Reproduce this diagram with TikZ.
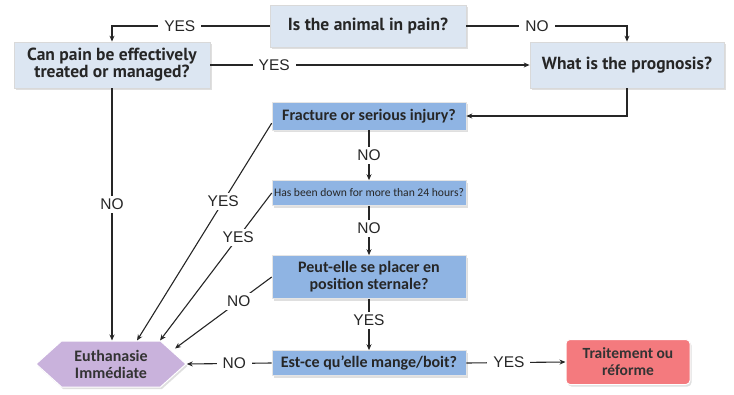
\documentclass[tikz,border=0pt]{standalone}
\usepackage{fontspec}
\setmainfont{Liberation Sans}
\newfontfamily\boxfont{Carlito}
\newfontfamily\topfont{PT Sans}
\usetikzlibrary{shapes.symbols,shadows,calc,arrows.meta}
\definecolor{topfill}{HTML}{DCE6F2}
\definecolor{lowfill}{HTML}{8FB4E3}
\definecolor{eufill}{HTML}{C9B2DC}
\definecolor{trfill}{HTML}{F47A7E}
\begin{document}
\begin{tikzpicture}[x=1pt,y=-1pt,
 shad/.style={drop shadow={shadow xshift=1.5pt,shadow yshift=-2pt,opacity=0.25}},
 topbox/.style={shad, draw=black!15, line width=0.8pt, fill=topfill, align=center, text=black!85,
   font=\topfont\bfseries\fontsize{17.5}{15.5}\selectfont, minimum width=196pt, inner sep=2pt},
 lowbox/.style={shad, draw=black!10, line width=0.6pt, fill=lowfill, align=center, text=black!85,
   font=\boxfont\bfseries\fontsize{16}{17}\selectfont, minimum width=194pt, inner sep=2pt},
 lbl/.style={fill=white, inner xsep=6pt, inner ysep=3pt, text=black!85, font=\fontsize{15.5}{16}\selectfont},
 conn/.style={line width=1.1pt, draw=black!85},
 arr/.style={conn, -{Stealth[length=6pt,width=5pt]}},
]
\useasboundingbox (0,0) rectangle (734,394);

\node[topbox, minimum height=42pt] (pain) at (368,26) {Is the animal in pain?};
\node[topbox, minimum height=46pt] (treat) at (112,65) {Can pain be effectively\\treated or managed?};
\node[topbox, minimum height=46pt, minimum width=194pt] (prog) at (627,65) {What is the prognosis?};
\node[lowbox, minimum height=28pt] (frac) at (369,116) {Fracture or serious injury?};
\node[lowbox, minimum height=25pt, font=\boxfont\fontsize{11.6}{12}\selectfont] (down) at (369,193) {Has been down for more than 24 hours?};
\node[lowbox, minimum height=43pt] (sternal) at (369,277) {Peut-elle se placer en\\position sternale?};
\node[lowbox, minimum height=25pt] (eat) at (369,363) {Est-ce qu’elle mange/boit?};
\node[shad, signal, signal to=west and east, signal pointer angle=84, fill=eufill, draw=white, line width=1pt,
  minimum width=150pt, minimum height=46pt, inner sep=1pt, align=center, text=black!80,
  font=\boxfont\bfseries\fontsize{16}{17}\selectfont] (eu) at (111,364) {Euthanasie\\Immédiate};
\node[shad, rounded corners=4pt, fill=trfill, draw=white, line width=1pt, minimum width=124pt, minimum height=45pt,
  align=center, text=black!80, font=\boxfont\bfseries\fontsize{15.5}{17}\selectfont] (tr) at (628,362) {Traitement ou\\réforme};

% top branches
\draw[arr] (pain.west) -- node[lbl, pos=0.57] (y1) {YES} (treat.north |- pain.west) -- (treat.north);
\draw[arr] (pain.east) -- node[lbl, pos=0.44] (n1) {NO} (prog.north |- pain.east) -- (prog.north);
\draw[arr] (treat.east) -- node[lbl, pos=0.2] (y2) {YES} (prog.west);
\draw[arr] (prog.south) -- (prog.south |- frac.east) -- (frac.east);
\draw[arr] (treat.south) -- node[lbl, pos=0.46] (n2) {NO} (treat.south |- eu.north);

% vertical chain
\draw[arr] (frac.south) -- node[lbl, pos=0.5] (n3) {NO} (down.north);
\draw[arr] (down.south) -- node[lbl, pos=0.46] (n4) {NO} (sternal.north);
\draw[arr] (sternal.south) -- node[lbl, pos=0.42] (y3) {YES} (eat.north);

% to euthanasia
\draw[arr] ($(frac.west)!0.5!(frac.south west)$) -- node[lbl, pos=0.36] (y4) {YES} ($(eu.north)+(26,0)$);
\draw[arr] (down.west) -- node[lbl, pos=0.3] (y5) {YES} ($(eu.north)+(49,0)$);
\draw[arr] (sternal.west) -- node[lbl, pos=0.34] (n5) {NO} ($(eu.north)+(64,8)$);
\draw[arr] (eat.west) -- node[lbl, pos=0.44] (n6) {NO} (eu.east);
\draw[arr] (eat.east) -- node[lbl, pos=0.43] (y6) {YES} (tr.west);
\end{tikzpicture}
\end{document}
